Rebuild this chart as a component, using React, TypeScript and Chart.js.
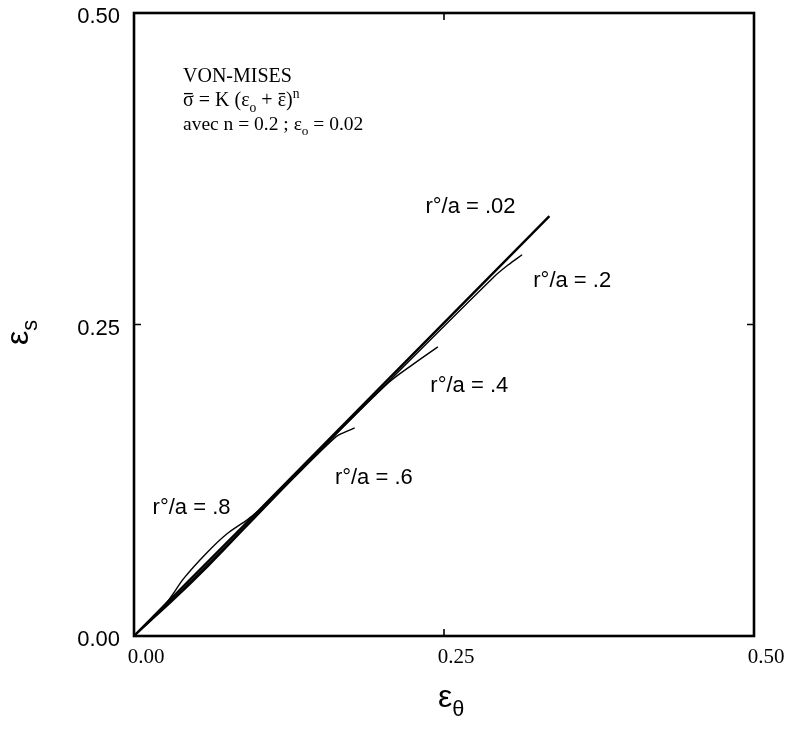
import React, { useEffect, useRef } from 'react';
import { Chart, registerables } from 'chart.js';

Chart.register(...registerables);

// ---- axis ticks ----
const xTickValues = [0, 0.25, 0.5];
const yTickValues = [0, 0.25, 0.5];
const xTickLabels = ['0.00', '0.25', '0.50'];
const yTickLabels = ['0.00', '0.25', '0.50'];

// ---- series (ε_θ , ε_s) ----
const r002X = [0, 0.1, 0.2, 0.335];
const r002Y = [0, 0.1, 0.201, 0.337];

const r02X = [0, 0.04, 0.08, 0.14, 0.2, 0.29, 0.302, 0.313];
const r02Y = [0, 0.038, 0.078, 0.139, 0.199, 0.288, 0.298, 0.306];

const r04X = [0, 0.03, 0.06, 0.1, 0.15, 0.205, 0.225, 0.245];
const r04Y = [0, 0.028, 0.057, 0.098, 0.149, 0.203, 0.218, 0.232];

const r06X = [0, 0.03, 0.06, 0.09, 0.13, 0.163, 0.171, 0.178];
const r06Y = [0, 0.027, 0.056, 0.087, 0.128, 0.16, 0.164, 0.167];

const r08X = [0, 0.015, 0.028, 0.04, 0.058, 0.075, 0.091, 0.1];
const r08Y = [0, 0.015, 0.029, 0.046, 0.066, 0.082, 0.093, 0.1];

// ---- curve labels (text and anchor in data units: left edge, vertical centre) ----
const curveLabelTexts = ['r°/a = .02', 'r°/a = .2', 'r°/a = .4', 'r°/a = .6', 'r°/a = .8'];
const curveLabelX = [0.235, 0.322, 0.239, 0.162, 0.015];
const curveLabelY = [0.344, 0.285, 0.201, 0.127, 0.103];

const toPts = (xs: number[], ys: number[]) => xs.map((x, i) => ({ x, y: ys[i] }));

type Seg = { t: string; sub?: boolean; sup?: boolean; bar?: boolean };

function drawRich(ctx: CanvasRenderingContext2D, x: number, y: number, segs: Seg[], size: number, family: string) {
  let cx = x;
  for (const s of segs) {
    const sz = s.sub || s.sup ? size * 0.68 : size;
    const dy = s.sub ? size * 0.28 : s.sup ? -size * 0.4 : 0;
    ctx.font = `${sz}px ${family}`;
    ctx.fillText(s.t, cx, y + dy);
    const w = ctx.measureText(s.t).width;
    if (s.bar) {
      ctx.save();
      ctx.lineWidth = 1.3;
      ctx.beginPath();
      ctx.moveTo(cx + 1, y + dy - size * 0.62);
      ctx.lineTo(cx + w - 1, y + dy - size * 0.62);
      ctx.stroke();
      ctx.restore();
    }
    cx += w;
  }
}

const decorPlugin = {
  id: 'decor',
  afterDraw(chart: any) {
    const ctx: CanvasRenderingContext2D = chart.ctx;
    const { left, right, top, bottom } = chart.chartArea;
    const xs = chart.scales.x;
    const ys = chart.scales.y;
    ctx.save();
    ctx.strokeStyle = '#000';
    ctx.fillStyle = '#000';
    // frame
    ctx.lineWidth = 2.6;
    ctx.strokeRect(left, top, right - left, bottom - top);
    // inward ticks on all four sides
    ctx.lineWidth = 1.6;
    const tl = 7;
    xTickValues.forEach((v) => {
      const px = xs.getPixelForValue(v);
      ctx.beginPath();
      ctx.moveTo(px, bottom); ctx.lineTo(px, bottom - tl);
      ctx.moveTo(px, top); ctx.lineTo(px, top + tl);
      ctx.stroke();
    });
    yTickValues.forEach((v) => {
      const py = ys.getPixelForValue(v);
      ctx.beginPath();
      ctx.moveTo(left, py); ctx.lineTo(left + tl, py);
      ctx.moveTo(right, py); ctx.lineTo(right - tl, py);
      ctx.stroke();
    });
    // curve labels
    ctx.textBaseline = 'middle';
    ctx.font = '22px "Liberation Sans", Arial, sans-serif';
    curveLabelTexts.forEach((t, i) => {
      ctx.fillText(t, xs.getPixelForValue(curveLabelX[i]), ys.getPixelForValue(curveLabelY[i]));
    });
    // text block (serif)
    ctx.textBaseline = 'alphabetic';
    const serif = '"Liberation Serif", "Times New Roman", serif';
    const tx = left + 49;
    drawRich(ctx, tx, top + 69, [{ t: 'VON-MISES' }], 20, serif);
    drawRich(ctx, tx, top + 93, [
      { t: 'σ', bar: true }, { t: ' = K (' }, { t: 'ε' }, { t: 'o', sub: true }, { t: ' + ' },
      { t: 'ε', bar: true }, { t: ')' }, { t: 'n', sup: true },
    ], 20, serif);
    drawRich(ctx, tx, top + 117, [
      { t: 'avec n = 0.2 ; ' }, { t: 'ε' }, { t: 'o', sub: true }, { t: ' = 0.02' },
    ], 19.5, serif);
    // axis titles
    const sans = '"Liberation Sans", Arial, sans-serif';
    const xMid = (left + right) / 2;
    drawRich(ctx, xMid - 6, 707, [{ t: 'ε' }, { t: 'θ', sub: true }], 32, sans);
    ctx.save();
    ctx.translate(28, 345);
    ctx.rotate(-Math.PI / 2);
    drawRich(ctx, 0, 0, [{ t: 'ε' }, { t: 's', sub: true }], 32, sans);
    ctx.restore();
    ctx.restore();
  },
};

export default function App() {
  const ref = useRef<HTMLCanvasElement | null>(null);
  useEffect(() => {
    if (!ref.current) return;
    const thin = { borderColor: '#000', borderWidth: 1.4, pointRadius: 0, showLine: true, tension: 0.3, fill: false };
    const chart = new Chart(ref.current, {
      type: 'scatter',
      data: {
        datasets: [
          { label: 'r°/a = .02', data: toPts(r002X, r002Y), borderColor: '#000', borderWidth: 2.4, pointRadius: 0, showLine: true, tension: 0 },
          { label: 'r°/a = .2', data: toPts(r02X, r02Y), ...thin },
          { label: 'r°/a = .4', data: toPts(r04X, r04Y), ...thin },
          { label: 'r°/a = .6', data: toPts(r06X, r06Y), ...thin },
          { label: 'r°/a = .8', data: toPts(r08X, r08Y), ...thin },
        ],
      },
      options: {
        animation: false,
        responsive: false,
        layout: { padding: { left: 0, top: 13, right: 43, bottom: 0 } },
        plugins: { legend: { display: false }, tooltip: { enabled: false }, title: { display: false } },
        scales: {
          x: {
            type: 'linear', min: 0, max: 0.5,
            afterBuildTicks: (s: any) => { s.ticks = xTickValues.map((v) => ({ value: v })); },
            afterFit: (s: any) => { s.height = 750 - 636; s.paddingLeft = 0; s.paddingRight = 0; },
            ticks: {
              callback: (_v: any, i: number) => xTickLabels[i],
              font: { family: '"Liberation Serif", serif', size: 21 },
              color: '#000', padding: 9, labelOffset: 12, maxRotation: 0, autoSkip: false,
            },
            grid: { display: false, drawTicks: false },
            border: { display: false },
          },
          y: {
            type: 'linear', min: 0, max: 0.5,
            afterBuildTicks: (s: any) => { s.ticks = yTickValues.map((v) => ({ value: v })); },
            afterFit: (s: any) => { s.width = 134; s.paddingTop = 0; s.paddingBottom = 0; },
            ticks: {
              callback: (_v: any, i: number) => yTickLabels[i],
              font: { family: '"Liberation Sans", Arial, sans-serif', size: 22 },
              color: '#000', padding: 14, labelOffset: 4, autoSkip: false,
            },
            grid: { display: false, drawTicks: false },
            border: { display: false },
          },
        },
      },
      plugins: [decorPlugin],
    } as any);
    return () => chart.destroy();
  }, []);
  return (
    <div style={{ position: 'fixed', left: 0, top: 0, width: 797, height: 750, background: '#fff' }}>
      <canvas ref={ref} width={797} height={750} style={{ width: 797, height: 750, display: 'block' }} />
    </div>
  );
}
